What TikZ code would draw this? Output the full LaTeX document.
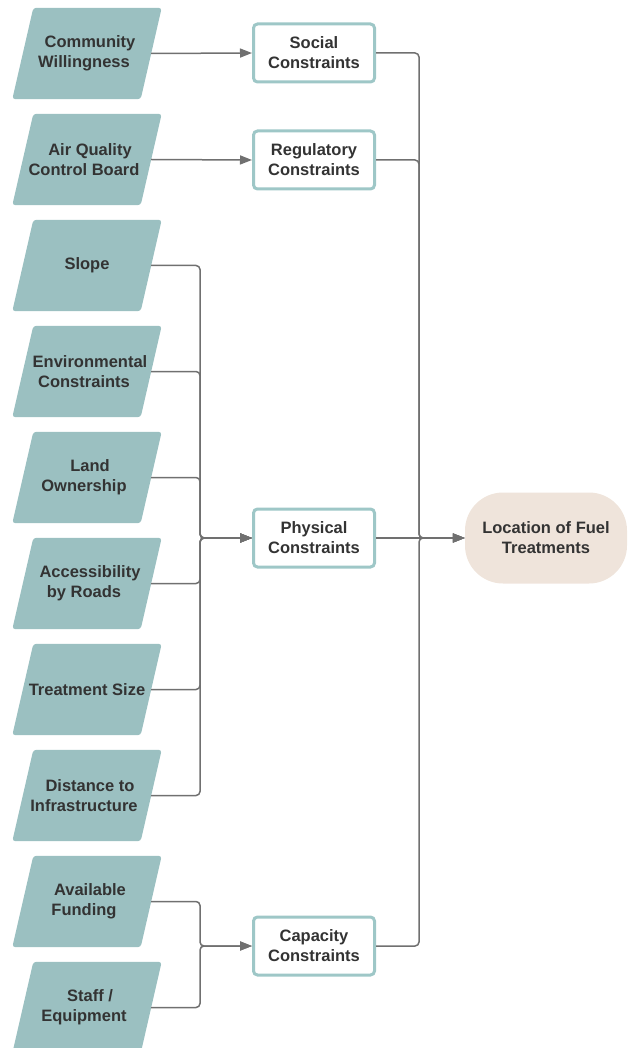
\documentclass[tikz,border=0pt]{standalone}
\usepackage{fontspec}
\setmainfont{Liberation Sans}
\usetikzlibrary{arrows.meta,backgrounds}
\definecolor{parafill}{HTML}{9BC0C1}
\definecolor{boxline}{HTML}{9EC7C7}
\definecolor{locfill}{HTML}{EFE4DB}
\definecolor{txt}{HTML}{333333}
\definecolor{conncol}{HTML}{707070}
\newcommand{\sh}{\rule{6pt}{0pt}}
\tikzset{
  para/.style={rectangle, minimum width=128pt, minimum height=91pt,
    inner sep=0pt, align=center,
    text=txt, font=\fontsize{16.5}{20}\selectfont\bfseries},
  parashape/.style={fill=parafill, rounded corners=3pt},
  cbox/.style={rectangle, draw=boxline, line width=3pt, fill=white,
    rounded corners=4pt, minimum width=121pt, minimum height=58pt,
    align=center, text=txt, font=\fontsize{16.5}{20}\selectfont\bfseries},
  locbox/.style={rectangle, fill=locfill, rounded corners=38pt,
    minimum width=162pt, minimum height=91pt, align=center, text=txt,
    font=\fontsize{16.5}{20}\selectfont\bfseries},
  conn/.style={draw=conncol, line width=1.5pt, rounded corners=4pt,
    -{Triangle[length=12pt,width=9pt]}},
}
\begin{document}
\begin{tikzpicture}[x=1pt,y=-1pt]
\useasboundingbox (0,0) rectangle (629,1048);
\node[para] (s1) at (87,53.5) {\sh Community\\Willingness\sh};
\node[para] (s2) at (87,159.5) {\sh Air Quality\\Control Board\sh};
\node[para] (s3) at (87,265.5) {Slope};
\node[para] (s4) at (87,371.5) {\sh Environmental\\Constraints\sh};
\node[para] (s5) at (87,477.5) {\sh Land\\Ownership\sh};
\node[para] (s6) at (87,583.5) {\sh Accessibility\\by Roads\sh};
\node[para] (s7) at (87,689.5) {Treatment Size};
\node[para] (s8) at (87,795.5) {\sh Distance to\\Infrastructure\sh};
\node[para] (s9) at (87,901.5) {\sh Available\\Funding\sh};
\node[para] (s10) at (87,1007.5) {\sh Staff /\\Equipment\sh};

\begin{scope}[on background layer]
\foreach \i in {1,...,10}{
  \fill[parashape] ([xshift=-10.5pt]s\i.south west) -- ([xshift=-10.5pt]s\i.south east)
    -- ([xshift=10.5pt]s\i.north east) -- ([xshift=10.5pt]s\i.north west) -- cycle;
}
\end{scope}

\node[cbox] (social) at (314,53) {Social\\Constraints};
\node[cbox] (reg) at (314,160) {Regulatory\\Constraints};
\node[cbox] (phys) at (314,538) {Physical\\Constraints};
\node[cbox] (cap) at (314,946) {Capacity\\Constraints};
\node[locbox] (loc) at (546,538) {Location of Fuel\\Treatments};

\coordinate (lb) at (200,0);
\coordinate (rb) at (419,0);

\draw[conn] (s1.east) -- (social.west);
\draw[conn] (s2.east) -- (reg.west);
\foreach \i in {3,...,8}{
  \draw[conn] (s\i.east) -| (lb |- phys) -- (phys.west);
}
\draw[conn] (s9.east) -| (lb |- cap) -- (cap.west);
\draw[conn] (s10.east) -| (lb |- cap) -- (cap.west);

\draw[conn] (social.east) -| (rb |- loc) -- (loc.west);
\draw[conn] (reg.east) -| (rb |- loc) -- (loc.west);
\draw[conn] (cap.east) -| (rb |- loc) -- (loc.west);
\draw[conn] (phys.east) -- (loc.west);
\end{tikzpicture}
\end{document}
